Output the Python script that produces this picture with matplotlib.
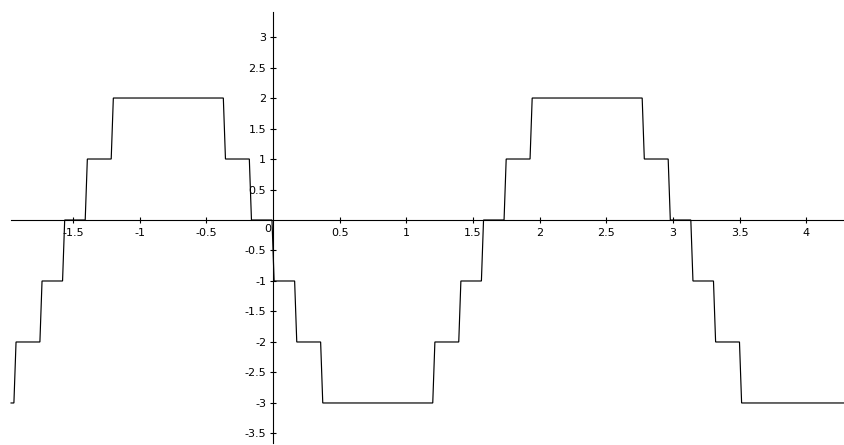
import matplotlib
matplotlib.use("Agg")
import matplotlib.pyplot as plt

plt.rcParams['axes.unicode_minus'] = False
plt.rcParams['font.family'] = ['DejaVu Sans']

# Step positions (x where the value changes) and the constant levels between them
breaks = [-1.9357, -1.7407, -1.5708, -1.4009, -1.2059, -0.3649, -0.1699, 0.0,
          0.1699, 0.3649, 1.2059, 1.4009, 1.5708, 1.7407, 1.9357, 2.7767,
          2.9717, 3.1416, 3.3115, 3.5065]
levels = [-3, -2, -1, 0, 1, 2, 1, 0, -1, -2, -3, -2, -1, 0, 1, 2, 1, 0, -1, -2, -3]
x_start, x_end = -1.965, 4.32

x_ticks = [-1.5, -1, -0.5, 0.5, 1, 1.5, 2, 2.5, 3, 3.5, 4]
x_labels = ["-1.5", "-1", "-0.5", "0.5", "1", "1.5", "2", "2.5", "3", "3.5", "4"]
y_ticks = [-3.5, -3, -2.5, -2, -1.5, -1, -0.5, 0.5, 1, 1.5, 2, 2.5, 3]
y_labels = ["-3.5", "-3", "-2.5", "-2", "-1.5", "-1", "-0.5", "0.5", "1", "1.5", "2", "2.5", "3"]

# build sampled step path (slightly slanted transitions)
h = 0.008
xs = [x_start]
ys = [levels[0]]
for i, b in enumerate(breaks):
    xs += [b - h, b + h]
    ys += [levels[i], levels[i + 1]]
xs.append(x_end)
ys.append(levels[-1])

fig = plt.figure(figsize=(8.45, 4.45), dpi=100)
ax = fig.add_axes([0, 0, 1, 1])
ax.set_xlim(-2.048, 4.29)
ax.set_ylim(-3.689, 3.607)

ax.plot(xs, ys, color='black', lw=0.85, solid_joinstyle='miter')

for s in ['top', 'right']:
    ax.spines[s].set_visible(False)
ax.spines['bottom'].set_position(('data', 0))
ax.spines['left'].set_position(('data', 0))
ax.spines['bottom'].set_bounds(-1.965, 4.3)
ax.spines['left'].set_bounds(-3.66, 3.41)
for s in ['bottom', 'left']:
    ax.spines[s].set_linewidth(0.8)
    ax.spines[s].set_color('black')

ax.set_xticks(x_ticks)
ax.set_xticklabels(x_labels)
ax.set_yticks(y_ticks)
ax.set_yticklabels(y_labels)
ax.tick_params(axis='both', direction='inout', length=5, width=0.8,
               labelsize=8, colors='black')
ax.tick_params(axis='x', pad=3.5)
ax.tick_params(axis='y', pad=2.5)

ax.text(-0.01, -0.07, "0", ha='right', va='top', fontsize=8)

fig.savefig("out.png", dpi=100)
